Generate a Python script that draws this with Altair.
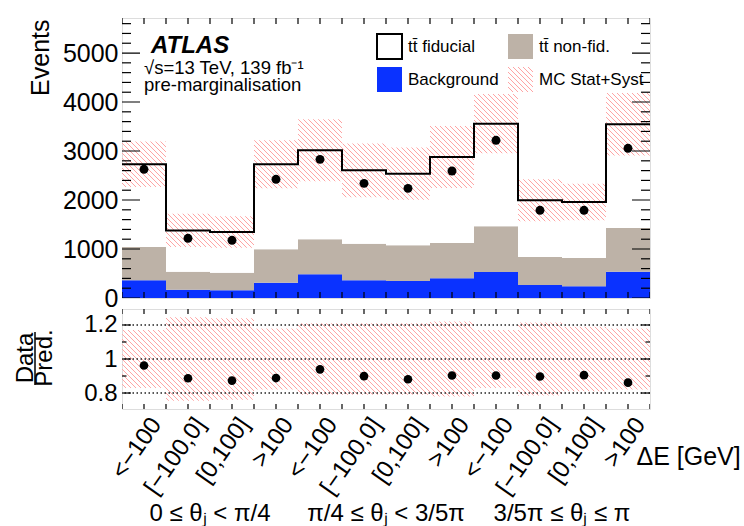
import json
import altair as alt
import pandas as pd

FONT = "Liberation Sans"

# ---------------- data ----------------
bin_labels = ["<−100", "[−100,0]", "[0,100]", ">100"] * 3
group_labels = ["0 ≤ θⱼ < π/4", "π/4 ≤ θⱼ < 3/5π", "3/5π ≤ θⱼ ≤ π"]
group_centers = [2, 6, 10]
# legend entries (listed column by column: fiducial / Background, non-fid. / MC)
components = ["tt\u0304 fiducial", "Background", "tt\u0304 non-fid.", "MC Stat+Syst"]

background = [361, 170, 157, 313, 483, 361, 347, 401, 531, 265, 238, 537]
ttbar_nonfid = [680, 367, 359, 681, 715, 748, 728, 721, 932, 572, 578, 892]
ttbar_fid = [1689, 843, 831, 1736, 1816, 1497, 1462, 1756, 2094, 1157, 1143, 2116]
data_events = [2626, 1218, 1177, 2422, 2830, 2340, 2238, 2592, 3218, 1790, 1790, 3055]
mc_rel_unc = [0.17, 0.245, 0.24, 0.18, 0.21, 0.21, 0.21, 0.22, 0.17, 0.215, 0.19, 0.18]
ratio = [0.962, 0.887, 0.873, 0.888, 0.939, 0.899, 0.881, 0.903, 0.903, 0.897, 0.905, 0.861]

y_labels_top = [0, 1000, 2000, 3000, 4000, 5000]
y_ticks_top = [0, 200, 400, 600, 800, 1000, 1200, 1400, 1600, 1800, 2000, 2200, 2400,
               2600, 2800, 3000, 3200, 3400, 3600, 3800, 4000, 4200, 4400, 4600, 4800,
               5000, 5200, 5400, 5600]
ratio_labels = [0.8, 1.0, 1.2]
ratio_ticks = [0.8, 0.9, 1.0, 1.1, 1.2]
ratio_tick_major = [True, False, True, False, True]
x_ticks = [0, 0.5, 1, 1.5, 2, 2.5, 3, 3.5, 4, 4.5, 5, 5.5, 6, 6.5, 7, 7.5, 8, 8.5,
           9, 9.5, 10, 10.5, 11, 11.5, 12]

atlas_label = "ATLAS"
energy_label = "√s=13 TeV, 139 fb⁻¹"
stage_label = "pre-marginalisation"
ratio_title_num = "Data"
ratio_title_den = "Pred."

# ---------------- layout constants ----------------
W, H1, H2 = 528, 280, 100
YMAX = 5715
RMIN, RMAX = 0.706, 1.294
NB = 12
BW = W / NB

COL_BKG = "#0a32ff"
COL_NONFID = "#bdb2a7"
HATCH = "#ffa4a4"
CLEAR = "rgba(255,255,255,0)"


def hatch(w, h, x0, y0, period=5.0, lw=2.2):
    """Linear gradient drawing 45-degree diagonal stripes inside a w x h box."""
    L = w + h
    s = L / (w * w + h * h)
    stops = [{"offset": 0, "color": CLEAR}]
    c = (y0 + h - x0) % period - period
    while c - lw / 2 <= L:
        for off, col in ((c - lw / 2, CLEAR), (c, HATCH), (c + lw / 2, CLEAR)):
            o = min(max(off / L, 0.0), 1.0)
            stops.append({"offset": round(o, 5), "color": col})
        c += period
    stops.append({"offset": 1, "color": CLEAR})
    return {"gradient": "linear", "x1": 0, "y1": 1,
            "x2": round(w * s, 5), "y2": round(1 - h * s, 5), "stops": stops}


totals = [b + n + f for b, n, f in zip(background, ttbar_nonfid, ttbar_fid)]

# ---------------- tables ----------------
stack_rows = []
for i in range(NB):
    base = 0
    for comp, vals in (("Background", background), ("tt\u0304 non-fid.", ttbar_nonfid),
                       ("tt\u0304 fiducial", ttbar_fid)):
        stack_rows.append({"i": i, "x0": i, "x1": i + 1, "comp": comp,
                           "y0": base, "y1": base + vals[i]})
        base += vals[i]
stack_df = pd.DataFrame(stack_rows)

bins_df = pd.DataFrame({
    "i": list(range(NB)),
    "x0": list(range(NB)),
    "x1": [i + 1 for i in range(NB)],
    "xc": [i + 0.5 for i in range(NB)],
    "total": totals,
    "data": data_events,
    "lo": [t * (1 - r) for t, r in zip(totals, mc_rel_unc)],
    "hi": [t * (1 + r) for t, r in zip(totals, mc_rel_unc)],
    "rlo": [1 - r for r in mc_rel_unc],
    "rhi": [1 + r for r in mc_rel_unc],
    "ratio": ratio,
})

step_df = pd.DataFrame({"x": list(range(NB + 1)), "y": totals + [totals[-1]]})

ytick_top_df = pd.DataFrame({"v": y_ticks_top,
                             "len": [36 if v % 1000 == 0 else 18 for v in y_ticks_top]})
xtick_df = pd.DataFrame({"v": x_ticks})
rtick_df = pd.DataFrame({"v": ratio_ticks,
                         "len": [18 if m else 9 for m in ratio_tick_major]})
grid_df = pd.DataFrame({"v": ratio_labels})
group_df = pd.DataFrame({"x": group_centers, "t": group_labels})

# ---------------- scales / axes ----------------
xs = alt.Scale(domain=[0, NB], nice=False, zero=False)
ys_top = alt.Scale(domain=[0, YMAX], nice=False, zero=False)
ys_bot = alt.Scale(domain=[RMIN, RMAX], nice=False, zero=False)

axis_y_top = alt.Axis(values=y_labels_top, format="d", ticks=False, domain=False, grid=False,
                      labelFontSize=25, labelPadding=4, labelFont=FONT, labelColor="black",
                      title="Events", titleFontSize=25, titleFont=FONT, titleFontWeight="normal",
                      titleColor="black", titleAngle=270, titleAlign="right",
                      titleBaseline="alphabetic", titleX=-74, titleY=1)
axis_y_bot = alt.Axis(values=ratio_labels, format="~g", ticks=False, domain=False, grid=False,
                      labelFontSize=24, labelPadding=5, labelFont=FONT, labelColor="black",
                      title=None)
label_expr = json.dumps(bin_labels, ensure_ascii=False) + "[floor(datum.value)]"
axis_x_bot = alt.Axis(values=[i + 0.5 for i in range(NB)], labelExpr=label_expr,
                      ticks=False, domain=False, grid=False, labelAngle=305,
                      labelAlign="right", labelBaseline="middle", labelFontSize=24,
                      labelFont=FONT, labelColor="black", labelPadding=11, labelOffset=12,
                      labelOverlap=False, labelFlush=False, labelBound=False,
                      title="ΔE [GeV]", titleFontSize=25, titleFont=FONT,
                      titleFontWeight="normal", titleColor="black", titleX=514, titleY=47,
                      titleAlign="left", titleBaseline="middle", titleAngle=0)


def X(field):
    return alt.X(field, type="quantitative", scale=xs, axis=None)


def XB(field):
    return alt.X(field, type="quantitative", scale=xs, axis=axis_x_bot)


def YT(field):
    return alt.Y(field, type="quantitative", scale=ys_top, axis=axis_y_top)


def YB(field):
    return alt.Y(field, type="quantitative", scale=ys_bot, axis=axis_y_bot)


legend_grad = json.dumps(hatch(25, 25, 0, 0))
fill_scale = alt.Scale(domain=components,
                       range=["white", COL_BKG, COL_NONFID, {"expr": legend_grad}])
legend = alt.Legend(title=None, orient="none", legendX=254, legendY=15, columns=2,
                    symbolType="square", symbolSize=625, symbolStrokeWidth=2,
                    symbolStrokeColor={"expr": "datum.value === '" + components[0] + "' ? 'black' : 'transparent'"},
                    symbolOpacity=1, labelFontSize=17, labelFont=FONT, labelColor="black",
                    labelOffset=5, columnPadding=5, rowPadding=0, padding=0, labelLimit=300)

# ---------------- top panel ----------------
stack = alt.Chart(stack_df).mark_rect(opacity=1, strokeWidth=0).encode(
    x=X("x0"), x2="x1", y=YT("y0"), y2="y1",
    fill=alt.Fill("comp:N", scale=fill_scale, legend=legend))

top_bands = []
for i in range(NB):
    y0px = H1 * (1 - bins_df["hi"][i] / YMAX)
    hpx = H1 * (bins_df["hi"][i] - bins_df["lo"][i]) / YMAX
    g = hatch(BW, hpx, i * BW, y0px)
    top_bands.append(alt.Chart(bins_df).transform_filter(alt.datum.i == i).mark_rect(
        fill=g, opacity=1).encode(x=X("x0"), x2="x1", y=YT("lo"), y2="hi"))

step = alt.Chart(step_df).mark_line(interpolate="step-after", color="black",
                                    strokeWidth=2).encode(x=X("x"), y=YT("y"))
pts_top = alt.Chart(bins_df).mark_circle(size=80, color="black", opacity=1).encode(
    x=X("xc"), y=YT("data"))

tick_kw = dict(color="black", thickness=1.2, opacity=1, clip=True)
ytl = alt.Chart(ytick_top_df).mark_tick(orient="horizontal", **tick_kw).encode(
    x=alt.XDatum(0, scale=xs, axis=None), y=YT("v"), size=alt.Size("len:Q", scale=None))
ytr = alt.Chart(ytick_top_df).mark_tick(orient="horizontal", **tick_kw).encode(
    x=alt.XDatum(NB, scale=xs, axis=None), y=YT("v"), size=alt.Size("len:Q", scale=None))
xtb = alt.Chart(xtick_df).mark_tick(orient="vertical", size=12, **tick_kw).encode(
    x=X("v"), y=alt.YDatum(0, scale=ys_top, axis=axis_y_top))
xtt = alt.Chart(xtick_df).mark_tick(orient="vertical", size=12, **tick_kw).encode(
    x=X("v"), y=alt.YDatum(YMAX, scale=ys_top, axis=axis_y_top))

one = pd.DataFrame({"k": [0]})
t_atlas = alt.Chart(one).mark_text(text=atlas_label, font=FONT, fontSize=24, fontWeight="bold",
                                   fontStyle="italic", align="left", baseline="alphabetic",
                                   color="black").encode(x=alt.value(29), y=alt.value(35))
t_energy = alt.Chart(one).mark_text(text=energy_label, font=FONT, fontSize=18.5, align="left",
                                    baseline="alphabetic", color="black").encode(
    x=alt.value(22), y=alt.value(56))
t_stage = alt.Chart(one).mark_text(text=stage_label, font=FONT, fontSize=18.5, align="left",
                                   baseline="alphabetic", color="black").encode(
    x=alt.value(22), y=alt.value(73))

top = alt.layer(stack, *top_bands, step, pts_top, ytl, ytr, xtb, xtt,
                t_atlas, t_energy, t_stage).properties(width=W, height=H1)

# ---------------- bottom panel ----------------
bot_bands = []
for i in range(NB):
    y0px = H2 * (RMAX - bins_df["rhi"][i]) / (RMAX - RMIN)
    hpx = H2 * (bins_df["rhi"][i] - bins_df["rlo"][i]) / (RMAX - RMIN)
    g = hatch(BW, hpx, i * BW, y0px)
    bot_bands.append(alt.Chart(bins_df).transform_filter(alt.datum.i == i).mark_rect(
        fill=g, opacity=1).encode(x=XB("x0"), x2="x1", y=YB("rlo"), y2="rhi"))

grid = alt.Chart(grid_df).mark_rule(color="#222222", strokeWidth=1.3,
                                    strokeDash=[1.5, 2.5]).encode(y=YB("v"))
pts_bot = alt.Chart(bins_df).mark_circle(size=75, color="black", opacity=1).encode(
    x=XB("xc"), y=YB("ratio"))
ryl = alt.Chart(rtick_df).mark_tick(orient="horizontal", **tick_kw).encode(
    x=alt.XDatum(0, scale=xs, axis=axis_x_bot), y=YB("v"), size=alt.Size("len:Q", scale=None))
ryr = alt.Chart(rtick_df).mark_tick(orient="horizontal", **tick_kw).encode(
    x=alt.XDatum(NB, scale=xs, axis=axis_x_bot), y=YB("v"), size=alt.Size("len:Q", scale=None))
rxb = alt.Chart(xtick_df).mark_tick(orient="vertical", size=10, **tick_kw).encode(
    x=XB("v"), y=alt.YDatum(RMIN, scale=ys_bot, axis=axis_y_bot))
rxt = alt.Chart(xtick_df).mark_tick(orient="vertical", size=10, **tick_kw).encode(
    x=XB("v"), y=alt.YDatum(RMAX, scale=ys_bot, axis=axis_y_bot))
groups = alt.Chart(group_df).mark_text(font=FONT, fontSize=24, baseline="middle",
                                       align="center", color="black").encode(
    x=XB("x"), y=alt.value(205), text="t:N")
t_num = alt.Chart(one).mark_text(text=ratio_title_num, font=FONT, fontSize=24, angle=270,
                                 align="center", baseline="alphabetic", color="black").encode(
    x=alt.value(-89), y=alt.value(49))
t_den = alt.Chart(one).mark_text(text=ratio_title_den, font=FONT, fontSize=24, angle=270,
                                 align="center", baseline="alphabetic", color="black").encode(
    x=alt.value(-70), y=alt.value(49))
frac_bar = alt.Chart(one).mark_rule(color="black", strokeWidth=1.5).encode(
    x=alt.value(-87), y=alt.value(23), y2=alt.value(76))

bottom = alt.layer(*bot_bands, grid, pts_bot, ryl, ryr, rxb, rxt, groups,
                   t_num, t_den, frac_bar).properties(width=W, height=H2)

chart = alt.vconcat(top, bottom, spacing=11, bounds="flush").properties(
    padding={"left": 13, "top": 17, "right": 0, "bottom": 0},
    background="white",
).configure_view(stroke="#1a1a1a", strokeWidth=1.6).configure(font=FONT)

chart.save("out.html", embed_options={"renderer": "svg", "actions": False})
